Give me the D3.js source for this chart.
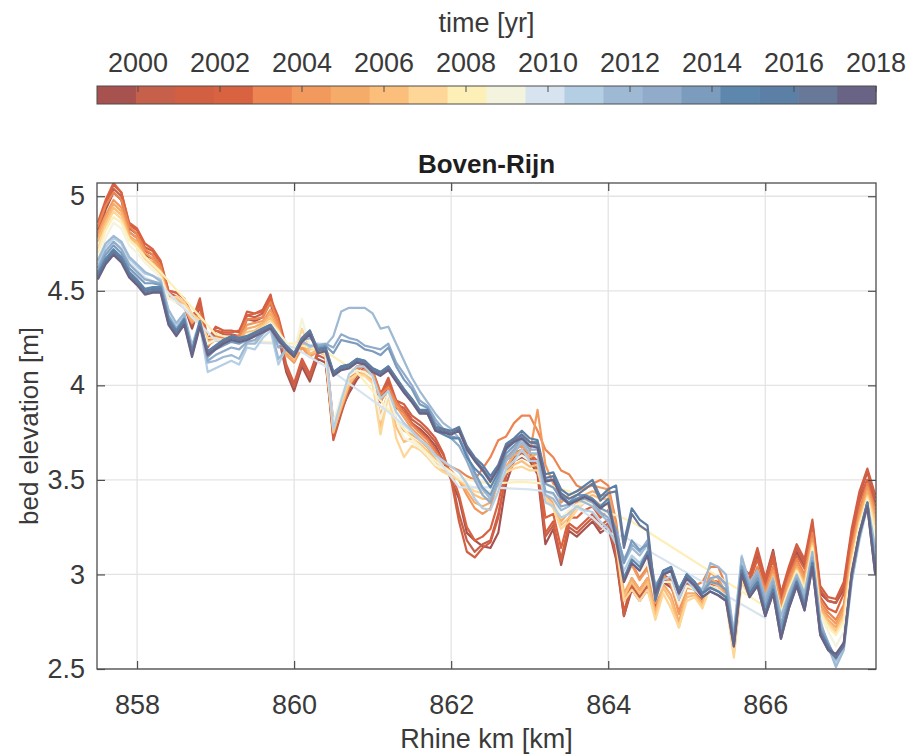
<!DOCTYPE html>
<html>
<head>
<meta charset="utf-8">
<script src="https://cdn.jsdelivr.net/npm/d3@7"></script>
<style>
  body { margin: 0; background: #fff; }
  text { font-family: "Liberation Sans", Arial, Helvetica, sans-serif; fill: #3a3a3a; }
</style>
</head>
<body>
<svg id="chart" width="912" height="756"></svg>
<script>
// Survey stations along the Boven-Rijn (Rhine km)
const km = [
  857.5,857.6,857.7,857.8,857.9,858.0,858.1,858.2,858.3,858.4,
  858.5,858.6,858.7,858.8,858.9,859.0,859.1,859.2,859.3,859.4,
  859.5,859.6,859.7,859.8,859.9,860.0,860.1,860.2,860.3,860.4,
  860.5,860.6,860.7,860.8,860.9,861.0,861.1,861.2,861.3,861.4,
  861.5,861.6,861.7,861.8,861.9,862.0,862.1,862.2,862.3,862.4,
  862.5,862.6,862.7,862.8,862.9,863.0,863.1,863.2,863.3,863.4,
  863.5,863.6,863.7,863.8,863.9,864.0,864.1,864.2,864.3,864.4,
  864.5,864.6,864.7,864.8,864.9,865.0,865.1,865.2,865.3,865.4,
  865.5,865.6,865.7,865.8,865.9,866.0,866.1,866.2,866.3,866.4,
  866.5,866.6,866.7,866.8,866.9,867.0,867.1,867.2,867.3,867.4
];

const years = [1999,2000,2001,2002,2003,2004,2005,2006,2007,2008,
               2009,2010,2011,2012,2013,2014,2015,2016,2017,2018];

const yearColors = [
  "#a8524f","#c6604a","#d35f43","#d96241","#ec8552","#f2995e","#f6ac69","#fbbf7b","#fdd698","#fdefb8",
  "#f3f3de","#d7e4ef","#b4cfe4","#9eb9d4","#91abca","#7c9cbd","#5e87ad","#5b7fa5","#687898","#696385"
];

// Bed elevation [m] per survey year (null = station not surveyed)
const bed1999 = [4.78,4.93,5.02,4.98,4.81,4.78,4.69,4.67,4.61,4.47,
  4.45,4.42,4.30,4.42,4.20,4.27,4.25,4.25,4.24,4.35,
  4.34,4.36,4.44,4.26,4.07,3.97,4.10,4.02,4.14,4.12,
  3.76,3.87,3.96,4.03,4.08,4.02,3.91,4.00,3.88,3.86,
  3.80,3.77,3.73,3.68,3.60,3.50,3.40,3.22,3.18,3.15,
  3.14,3.22,3.48,3.60,3.62,3.60,3.53,3.16,3.24,3.05,
  3.23,3.20,3.24,3.28,3.22,3.25,3.08,2.78,2.92,2.86,
  2.92,2.80,2.96,2.93,2.86,2.94,2.92,2.86,2.93,2.92,
  2.88,2.66,3.02,2.96,3.10,2.98,3.13,2.90,3.02,3.12,
  3.04,3.24,2.90,2.86,2.85,2.92,3.18,3.40,3.50,3.38];
const bed2000 = [4.80,4.95,5.04,5.00,4.83,4.80,4.71,4.69,4.63,4.49,
  4.47,4.44,4.32,4.44,4.22,4.29,4.27,4.27,4.26,4.37,
  4.36,4.38,4.46,4.28,4.09,3.99,4.12,4.04,4.16,4.14,
  3.71,3.85,3.98,4.05,4.10,4.04,3.93,4.02,3.90,3.88,
  3.82,3.79,3.75,3.70,3.63,3.52,3.32,3.18,3.12,3.16,
  3.18,3.32,3.52,3.62,3.64,3.62,3.55,3.20,3.26,3.07,
  3.25,3.22,3.26,3.30,3.24,3.27,3.10,2.78,2.94,2.88,
  2.94,2.80,2.98,2.95,2.86,2.96,2.94,2.86,2.95,2.94,
  2.88,2.66,3.02,2.98,3.12,2.96,3.12,2.88,3.02,3.14,
  3.06,3.27,2.92,2.86,2.85,2.94,3.22,3.42,3.54,3.40];
const bed2001 = [4.82,4.97,5.06,5.02,4.85,4.82,4.73,4.71,4.65,4.50,
  4.49,4.46,4.34,4.46,4.24,4.31,4.29,4.29,4.28,4.39,
  4.38,4.40,4.48,4.30,4.11,4.01,4.14,4.06,4.18,4.16,
  3.72,3.87,4.00,4.07,4.12,4.06,3.95,4.04,3.92,3.90,
  3.84,3.81,3.77,3.72,3.64,3.50,3.28,3.12,3.09,3.14,
  3.17,3.30,3.54,3.64,3.66,3.64,3.57,3.22,3.28,3.08,
  3.27,3.24,3.28,3.32,3.26,3.29,3.12,2.80,2.96,2.90,
  2.96,2.82,3.00,2.97,2.88,2.98,2.96,2.88,2.97,2.96,
  2.90,2.68,3.04,3.00,3.14,2.98,3.10,2.90,3.04,3.16,
  3.08,3.29,2.94,2.88,2.87,2.96,3.24,3.44,3.56,3.42];
const bed2002 = [4.86,4.98,5.07,5.02,4.86,4.83,4.75,4.72,4.66,4.50,
  4.49,4.46,4.37,4.41,4.25,4.29,4.28,4.28,4.29,4.37,
  4.38,4.39,4.46,4.36,4.20,4.16,4.24,4.19,4.22,4.21,
  3.80,3.92,4.04,4.10,4.11,4.08,3.96,4.00,3.92,3.86,
  3.80,3.76,3.72,3.66,3.60,3.54,3.42,3.25,3.18,3.20,
  3.24,3.38,3.56,3.64,3.66,3.64,3.60,3.30,3.32,3.14,
  3.30,3.30,3.34,3.36,3.30,3.34,3.16,2.86,2.98,2.92,
  2.98,2.82,2.98,2.94,2.84,2.95,2.93,2.87,2.97,2.96,
  2.89,2.64,3.02,2.96,3.08,2.94,3.08,2.86,3.00,3.10,
  3.03,3.24,2.88,2.82,2.80,2.90,3.18,3.38,3.50,3.36];
const bed2003 = [4.84,4.95,5.02,4.98,4.84,4.80,4.72,4.69,4.63,4.48,
  4.46,4.43,4.34,4.38,4.22,4.26,4.25,4.25,4.26,4.35,
  4.35,4.36,4.44,4.33,4.17,4.13,4.21,4.16,4.19,4.18,
  3.79,3.91,4.03,4.09,4.10,4.07,3.95,3.99,3.91,3.85,
  3.79,3.75,3.71,3.65,3.59,3.57,3.55,3.52,3.50,3.56,
  3.62,3.71,3.73,3.80,3.84,3.84,3.76,3.66,3.62,3.55,
  3.53,3.47,3.45,3.48,3.50,3.47,3.28,2.98,3.06,2.98,
  3.04,2.86,3.00,2.94,2.80,2.94,2.94,2.96,3.04,3.04,
  2.94,2.62,3.00,2.93,3.04,2.92,3.04,2.84,2.98,3.08,
  3.00,3.22,2.86,2.80,2.76,2.84,3.14,3.34,3.48,3.34];
const bed2004 = [4.80,4.90,4.98,4.94,4.81,4.78,4.70,4.67,4.61,4.47,
  4.44,4.41,4.33,4.36,4.21,4.24,4.23,4.23,4.24,4.32,
  4.33,4.34,4.40,4.31,4.16,4.12,4.20,4.15,4.18,4.17,
  3.78,3.89,4.01,4.07,4.08,4.05,3.92,3.97,3.89,3.83,
  3.77,3.73,3.69,3.63,3.57,3.55,3.50,3.42,3.35,3.32,
  3.35,3.50,3.60,3.66,3.68,3.64,3.87,3.58,3.48,3.38,
  3.42,3.44,3.46,3.47,3.46,3.45,3.26,2.96,3.05,2.97,
  3.03,2.85,2.99,2.96,2.79,2.93,2.92,2.89,3.01,2.98,
  2.90,2.60,3.00,2.92,3.02,2.90,3.02,2.83,2.96,3.06,
  2.98,3.19,2.84,2.78,2.74,2.82,3.12,3.32,3.46,3.32];
const bed2005 = [4.78,4.88,4.96,4.92,4.79,4.76,4.68,4.65,4.60,4.46,
  4.45,4.42,4.34,4.35,4.22,4.24,4.23,4.23,4.24,4.30,
  4.31,4.33,4.38,4.29,4.16,4.13,4.22,4.16,4.18,4.16,
  3.76,3.88,4.00,4.06,4.07,4.03,3.84,3.96,3.82,3.76,
  3.74,3.71,3.67,3.61,3.56,3.54,3.50,3.44,3.38,3.36,
  3.38,3.48,3.57,3.63,3.66,3.62,3.64,3.42,3.38,3.28,
  3.33,3.38,3.42,3.44,3.42,3.42,3.22,2.90,2.98,2.92,
  2.98,2.80,2.95,2.89,2.75,2.90,2.90,2.85,2.98,2.95,
  2.88,2.62,2.98,2.90,3.00,2.88,3.00,2.80,2.94,3.04,
  2.96,3.17,2.82,2.76,2.72,2.80,3.10,3.30,3.44,3.30];
const bed2006 = [4.76,4.86,4.94,4.90,4.78,4.75,4.68,4.64,4.59,4.46,
  4.46,4.43,4.36,4.34,4.23,4.24,4.23,4.23,4.23,4.28,
  4.29,4.32,4.36,4.28,4.18,4.14,4.25,4.17,4.18,4.16,
  3.75,3.89,4.01,4.06,4.06,4.02,3.78,3.96,3.78,3.70,
  3.72,3.69,3.65,3.60,3.55,3.53,3.50,3.46,3.42,3.40,
  3.40,3.47,3.54,3.58,3.60,3.57,3.58,3.40,3.36,3.26,
  3.30,3.36,3.40,3.42,3.40,3.40,3.20,2.88,2.96,2.90,
  2.96,2.78,2.93,2.86,2.72,2.88,2.89,2.83,2.96,2.94,
  2.87,2.58,2.97,2.89,2.98,2.87,2.99,2.80,2.93,3.03,
  2.95,3.16,2.81,2.75,2.70,2.78,3.08,3.28,3.42,3.28];
const bed2007 = [4.72,4.84,4.92,4.88,4.77,4.73,4.67,4.63,4.59,4.46,
  4.47,4.44,4.38,4.34,4.25,4.25,4.24,4.24,4.23,4.27,
  4.28,4.31,4.34,4.29,4.20,4.16,4.30,4.19,4.19,4.16,
  3.77,3.91,4.03,4.06,4.05,4.01,3.74,3.95,3.72,3.62,
  3.68,3.66,3.62,3.57,3.54,3.52,3.50,3.47,3.44,3.43,
  3.44,3.50,3.54,3.56,3.57,3.55,3.55,3.40,3.35,3.24,
  3.28,3.34,3.38,3.40,3.37,3.37,3.16,2.86,2.92,2.86,
  2.92,2.76,2.90,2.82,2.72,2.86,2.88,2.82,2.94,2.92,
  2.86,2.56,2.96,2.88,2.96,2.86,2.98,2.80,2.92,3.02,
  2.94,3.15,2.80,2.74,2.69,2.77,3.06,3.27,3.41,3.26];
const bed2008 = [4.70,4.82,4.89,4.86,4.77,4.73,4.68,4.64,4.60,null,
  null,null,null,null,null,4.27,null,null,4.24,null,
  null,null,null,null,null,4.22,null,null,null,4.18,
  null,null,null,4.07,null,null,3.92,null,null,null,
  3.72,null,null,3.60,null,null,3.51,null,null,null,
  3.48,null,null,null,3.49,null,null,3.48,null,null,
  3.44,null,null,3.36,null,null,null,null,3.28,null,
  null,null,null,null,null,null,null,null,null,null,
  null,null,null,null,null,2.83,2.98,2.80,2.92,3.02,
  2.92,3.14,2.80,2.72,2.68,2.75,3.05,3.26,3.40,3.22];
const bed2009 = [4.66,4.78,4.86,4.83,4.74,4.70,4.65,4.61,4.57,4.46,
  4.44,4.42,4.36,4.32,4.22,4.24,4.24,4.24,4.23,4.27,
  4.28,4.30,4.33,4.28,4.23,4.18,4.35,4.21,4.20,4.17,
  3.80,3.94,4.05,4.08,4.07,4.04,3.82,3.96,3.82,3.72,
  3.70,3.67,3.63,3.58,3.56,3.54,3.51,3.48,3.46,3.44,
  3.44,3.50,3.56,3.60,3.63,3.60,3.60,3.43,3.40,3.30,
  3.34,3.37,3.38,3.38,3.34,3.32,3.20,2.98,3.06,3.02,
  3.06,2.86,2.96,2.96,2.84,2.94,2.92,2.88,2.93,2.92,
  2.88,2.68,3.03,2.92,2.98,2.86,2.97,2.78,2.90,3.00,
  2.90,3.12,2.78,2.70,2.62,2.70,3.02,3.24,3.39,3.18];
const bed2010 = [4.62,4.70,4.76,4.73,4.65,4.61,4.57,4.55,4.53,null,
  null,null,null,null,null,4.24,null,null,4.23,null,
  null,null,null,4.22,null,4.20,null,null,null,4.10,
  null,null,null,3.98,null,null,null,3.86,null,null,
  null,null,3.68,null,null,null,3.46,null,null,null,
  3.46,null,null,null,null,3.45,null,3.44,null,null,
  3.38,null,null,3.30,null,3.22,null,3.20,null,null,
  null,null,null,null,null,null,null,null,null,null,
  null,null,null,null,null,2.77,2.94,2.74,2.86,2.97,
  2.86,3.08,2.74,2.64,2.55,2.63,2.97,3.19,3.36,3.08];
const bed2011 = [4.64,4.73,4.78,4.75,4.67,4.63,4.59,4.58,4.56,4.40,
  4.32,4.38,4.18,4.32,4.07,4.09,4.11,4.13,4.11,4.20,
  4.19,4.25,4.29,4.11,4.20,4.16,4.24,4.20,4.22,4.22,
  3.77,3.92,4.06,4.10,4.10,4.05,3.93,3.97,3.86,3.80,
  3.76,3.71,3.68,3.63,3.60,3.57,3.54,3.48,3.40,3.35,
  3.34,3.44,3.56,3.60,3.66,3.60,3.60,3.38,3.36,3.30,
  3.32,3.36,3.34,3.33,3.28,3.24,3.16,3.02,3.10,3.06,
  3.12,2.88,2.97,2.99,2.87,2.97,2.92,2.89,2.98,2.99,
  2.94,2.70,3.10,2.94,2.99,2.85,2.95,2.74,2.86,2.98,
  2.86,3.08,2.74,2.64,2.53,2.62,2.96,3.18,3.36,3.12];
const bed2012 = [4.66,4.75,4.79,4.76,4.68,4.64,4.60,4.58,4.55,4.40,
  4.33,4.38,4.21,4.34,4.12,4.13,4.15,4.16,4.14,4.22,
  4.22,4.27,4.31,4.14,4.19,4.16,4.23,4.21,4.21,4.21,
  4.26,4.39,4.41,4.41,4.41,4.38,4.30,4.31,4.22,4.13,
  4.04,3.97,3.91,3.85,3.80,3.77,3.72,3.64,3.52,3.45,
  3.40,3.48,3.60,3.64,3.70,3.64,3.64,3.42,3.40,3.34,
  3.36,3.40,3.38,3.36,3.32,3.28,3.20,3.06,3.14,3.10,
  3.16,2.92,3.00,3.02,2.90,3.00,2.95,2.92,3.06,3.04,
  3.00,2.68,3.09,2.96,3.02,2.88,2.98,2.78,2.90,3.00,
  2.90,3.12,2.76,2.62,2.51,2.60,2.96,3.20,3.38,3.14];
const bed2013 = [4.62,4.71,4.76,4.72,4.64,4.60,4.56,4.55,4.54,4.37,
  4.30,4.36,4.18,4.33,4.13,4.16,4.18,4.20,4.19,4.23,
  4.24,4.28,4.31,4.20,4.20,4.17,4.24,4.25,4.21,4.22,
  4.20,4.27,4.25,4.24,4.21,4.20,4.19,4.22,4.12,4.06,
  4.00,3.92,3.89,3.82,3.77,3.72,3.68,3.60,3.50,3.42,
  3.38,3.50,3.62,3.66,3.72,3.66,3.66,3.44,3.43,3.36,
  3.37,3.40,3.40,3.38,3.33,3.30,3.22,3.08,3.16,3.12,
  3.18,2.93,3.00,3.02,2.90,2.99,2.95,2.90,2.98,2.99,
  2.95,2.67,3.05,2.94,3.00,2.86,2.96,2.74,2.88,2.98,
  2.87,3.09,2.74,2.64,2.55,2.63,2.98,3.20,3.37,3.08];
const bed2014 = [4.60,4.69,4.74,4.70,4.62,4.58,4.54,4.54,4.53,4.36,
  4.29,4.35,4.18,4.33,4.15,4.19,4.21,4.23,4.22,4.24,
  4.26,4.29,4.31,4.23,4.20,4.17,4.24,4.27,4.20,4.21,
  4.17,4.24,4.23,4.22,4.19,4.18,4.16,4.20,4.10,4.03,
  3.98,3.90,3.88,3.80,3.76,3.73,3.72,3.63,3.54,3.46,
  3.42,3.52,3.64,3.68,3.73,3.68,3.68,3.48,3.46,3.40,
  3.38,3.42,3.42,3.40,3.35,3.33,3.24,3.06,3.18,3.13,
  3.16,2.94,3.01,3.03,2.91,3.00,2.96,2.90,2.96,2.95,
  2.92,2.66,3.04,2.92,2.98,2.83,2.94,2.72,2.86,2.97,
  2.85,3.07,2.72,2.63,2.56,2.64,2.99,3.21,3.38,3.05];
const bed2015 = [4.59,4.67,4.72,4.68,4.60,4.56,4.51,4.52,4.52,4.35,
  4.29,4.35,4.18,4.34,4.18,4.21,4.24,4.26,4.25,4.26,
  4.28,4.30,4.32,4.26,4.20,4.16,4.25,4.29,4.19,4.20,
  4.07,4.10,4.11,4.14,4.13,4.09,4.07,4.10,4.04,3.98,
  3.92,3.86,3.85,3.76,3.74,3.72,3.72,3.62,3.56,3.52,
  3.46,3.54,3.66,3.70,3.74,3.70,3.70,3.50,3.50,3.42,
  3.38,3.40,3.42,3.40,3.36,3.40,3.20,2.98,3.08,3.04,
  3.12,2.92,3.02,3.04,2.92,3.00,2.96,2.90,2.93,2.91,
  2.88,2.64,3.02,2.90,2.96,2.80,2.92,2.68,2.84,2.96,
  2.83,3.06,2.70,2.62,2.57,2.63,3.00,3.22,3.38,3.02];
const bed2016 = [4.58,4.66,4.71,4.67,4.59,4.55,4.50,4.51,4.51,4.34,
  4.28,4.34,4.17,4.33,4.18,4.21,4.24,4.26,4.25,4.26,
  4.28,4.30,4.32,4.26,4.21,4.17,4.25,4.29,4.19,4.20,
  4.07,4.10,4.11,4.14,4.13,4.09,4.07,4.10,4.04,3.98,
  3.93,3.87,3.87,3.78,3.77,3.76,3.78,3.68,3.62,3.58,
  3.52,3.58,3.69,3.72,3.76,3.72,3.71,3.53,3.54,3.45,
  3.42,3.44,3.47,3.50,3.41,3.45,3.47,3.17,3.35,3.29,
  3.26,2.88,3.02,3.04,2.92,3.00,2.96,2.90,2.93,2.91,
  2.88,2.64,3.02,2.90,2.96,2.80,2.92,2.68,2.84,2.96,
  2.83,3.06,2.70,2.62,2.56,2.63,3.00,3.22,3.38,3.02];
const bed2017 = [4.57,4.65,4.70,4.66,4.58,4.54,4.49,4.50,4.50,4.33,
  4.27,4.33,4.16,4.32,4.17,4.20,4.23,4.25,4.24,4.25,
  4.27,4.29,4.31,4.25,4.20,4.16,4.24,4.28,4.18,4.19,
  4.06,4.09,4.10,4.13,4.12,4.08,4.06,4.09,4.03,3.97,
  3.92,3.86,3.86,3.77,3.76,3.75,3.77,3.67,3.61,3.56,
  3.50,3.57,3.68,3.71,3.74,3.70,3.69,3.51,3.52,3.43,
  3.40,3.42,3.45,3.48,3.39,3.43,3.44,3.14,3.32,3.26,
  3.23,2.86,3.00,3.02,2.90,2.98,2.94,2.88,2.91,2.89,
  2.86,2.62,3.00,2.88,2.94,2.78,2.90,2.66,2.82,2.94,
  2.81,3.04,2.68,2.60,2.56,2.62,2.99,3.21,3.36,3.00];
const bed2018 = [4.56,4.64,4.69,4.65,4.57,4.53,4.48,4.49,4.49,4.32,
  4.26,4.32,4.15,4.31,4.16,4.19,4.22,4.24,4.23,4.24,
  4.26,4.28,4.30,4.24,4.19,4.15,4.23,4.27,4.17,4.18,
  4.05,4.08,4.09,4.12,4.11,4.07,4.05,4.08,4.02,3.96,
  3.91,3.85,3.85,3.76,3.75,3.74,3.76,3.66,3.60,3.55,
  3.49,3.56,3.67,3.70,3.72,3.68,3.67,3.49,3.50,3.41,
  3.37,3.39,3.41,3.39,3.35,3.38,3.18,2.96,3.06,3.02,
  3.10,2.90,3.00,3.02,2.90,2.98,2.94,2.88,2.91,2.89,
  2.86,2.62,3.00,2.88,2.94,2.78,2.90,2.66,2.82,2.94,
  2.81,3.04,2.68,2.60,2.58,2.64,3.01,3.22,3.36,3.00];

const bedByYear = [bed1999,bed2000,bed2001,bed2002,bed2003,bed2004,bed2005,bed2006,bed2007,bed2008,
                   bed2009,bed2010,bed2011,bed2012,bed2013,bed2014,bed2015,bed2016,bed2017,bed2018];

const xTicks = [858, 860, 862, 864, 866];
const yTicks = [2.5, 3, 3.5, 4, 4.5, 5];
const cbTicks = [2000, 2002, 2004, 2006, 2008, 2010, 2012, 2014, 2016, 2018];

// ---- layout ----
const plot = { left: 97, right: 876, top: 183, bottom: 669 };
const cb = { left: 97, right: 876, top: 86, bottom: 104 };
const axisColor = "#4d4d4d";
const gridColor = "#e4e4e4";
const fontSize = 27;

const svg = d3.select("#chart");

const x = d3.scaleLinear().domain([857.49, 867.41]).range([plot.left, plot.right]);
const y = d3.scaleLinear().domain([2.5, 5.07]).range([plot.bottom, plot.top]);

// ---- colour bar ----
const cbScale = d3.scaleLinear().domain([1999, 2018]).range([cb.left, cb.right]);
const cbBand = d3.scaleBand().domain(years).range([cb.left, cb.right]).padding(0);
const colorOf = d3.scaleOrdinal().domain(years).range(yearColors);

svg.append("text")
  .attr("x", (cb.left + cb.right) / 2).attr("y", 32)
  .attr("text-anchor", "middle").attr("font-size", fontSize)
  .text("time [yr]");

const cbG = svg.append("g");
cbG.selectAll("rect.block").data(years).join("rect")
  .attr("class", "block")
  .attr("x", d => cbBand(d)).attr("y", cb.top)
  .attr("width", cbBand.bandwidth() + 0.5).attr("height", cb.bottom - cb.top)
  .attr("fill", d => colorOf(d));
cbG.append("rect")
  .attr("x", cb.left).attr("y", cb.top)
  .attr("width", cb.right - cb.left).attr("height", cb.bottom - cb.top)
  .attr("fill", "none").attr("stroke", axisColor).attr("stroke-width", 1);
cbG.selectAll("line.cbtick").data(cbTicks).join("line")
  .attr("class", "cbtick")
  .attr("x1", d => cbScale(d)).attr("x2", d => cbScale(d))
  .attr("y1", cb.top).attr("y2", cb.top + 6)
  .attr("stroke", axisColor).attr("stroke-width", 1);
cbG.selectAll("text.cblab").data(cbTicks).join("text")
  .attr("class", "cblab")
  .attr("x", d => cbScale(d))
  .attr("y", 72)
  .attr("text-anchor", "middle").attr("font-size", fontSize)
  .text(d => d);

// ---- title, grid ----
svg.append("text")
  .attr("x", (plot.left + plot.right) / 2).attr("y", 173)
  .attr("text-anchor", "middle").attr("font-size", 26).attr("font-weight", "bold")
  .style("fill", "#1e1e1e")
  .text("Boven-Rijn");

const grid = svg.append("g");
grid.selectAll("line.gx").data(xTicks).join("line")
  .attr("x1", d => x(d)).attr("x2", d => x(d))
  .attr("y1", plot.top).attr("y2", plot.bottom)
  .attr("stroke", gridColor).attr("stroke-width", 1.3);
grid.selectAll("line.gy").data(yTicks).join("line")
  .attr("x1", plot.left).attr("x2", plot.right)
  .attr("y1", d => y(d)).attr("y2", d => y(d))
  .attr("stroke", gridColor).attr("stroke-width", 1.3);

// ---- profiles ----
svg.append("clipPath").attr("id", "plotclip")
  .append("rect").attr("x", plot.left).attr("y", plot.top)
  .attr("width", plot.right - plot.left).attr("height", plot.bottom - plot.top);

const line = d3.line().x(d => x(d[0])).y(d => y(d[1]));
const profiles = years.map((yr, i) => ({
  year: yr,
  pts: km.map((k, j) => [k, bedByYear[i][j]]).filter(p => p[1] !== null)
}));

svg.append("g").attr("clip-path", "url(#plotclip)")
  .selectAll("path").data(profiles).join("path")
  .attr("d", d => line(d.pts))
  .attr("fill", "none")
  .attr("stroke", d => colorOf(d.year))
  .attr("stroke-width", 2.2)
  .attr("stroke-linejoin", "round");

// ---- axes with inward ticks ----
const styleAxis = g => {
  g.select(".domain").remove();
  g.selectAll(".tick line").attr("stroke", axisColor).attr("stroke-width", 1.2);
  g.selectAll(".tick text").attr("font-size", fontSize).style("fill", "#3a3a3a")
    .attr("font-family", '"Liberation Sans", Arial, sans-serif');
};

svg.append("g").attr("transform", `translate(0,${plot.bottom})`)
  .call(d3.axisBottom(x).tickValues(xTicks).tickSize(-8).tickPadding(26).tickFormat(d3.format("d")))
  .call(styleAxis);
svg.append("g").attr("transform", `translate(0,${plot.top})`)
  .call(d3.axisTop(x).tickValues(xTicks).tickSize(-8).tickFormat(""))
  .call(styleAxis);
svg.append("g").attr("transform", `translate(${plot.left},0)`)
  .call(d3.axisLeft(y).tickValues(yTicks).tickSize(-8).tickPadding(12).tickFormat(d3.format("")))
  .call(styleAxis);
svg.append("g").attr("transform", `translate(${plot.right},0)`)
  .call(d3.axisRight(y).tickValues(yTicks).tickSize(-8).tickFormat(""))
  .call(styleAxis);

svg.append("rect")
  .attr("x", plot.left).attr("y", plot.top)
  .attr("width", plot.right - plot.left).attr("height", plot.bottom - plot.top)
  .attr("fill", "none").attr("stroke", axisColor).attr("stroke-width", 1.3);

svg.append("text")
  .attr("x", (plot.left + plot.right) / 2).attr("y", 748)
  .attr("text-anchor", "middle").attr("font-size", fontSize)
  .text("Rhine km [km]");
svg.append("text")
  .attr("transform", `translate(38,${(plot.top + plot.bottom) / 2}) rotate(-90)`)
  .attr("text-anchor", "middle").attr("font-size", 26)
  .text("bed elevation [m]");
</script>
</body>
</html>
